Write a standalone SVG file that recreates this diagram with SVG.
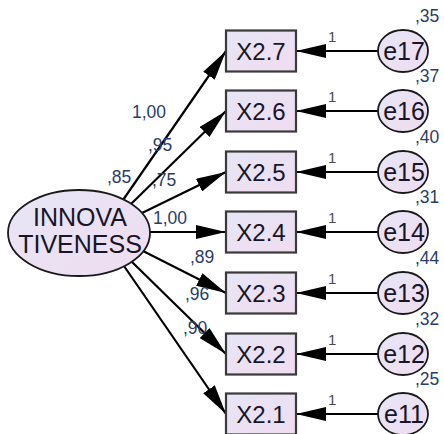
<svg xmlns="http://www.w3.org/2000/svg" width="444" height="434" viewBox="0 0 444 434">
  <defs>
    <linearGradient id="fillGrad" x1="0" y1="0" x2="1" y2="1">
      <stop offset="0" stop-color="#e6e6f6"/>
      <stop offset="1" stop-color="#f0dcf0"/>
    </linearGradient>
    <marker id="arrow" markerUnits="userSpaceOnUse" markerWidth="31" markerHeight="14" refX="30" refY="7" orient="auto">
      <path d="M0,0 L30,7 L0,14 Z" fill="#000"/>
    </marker>
  </defs>
  <style>
    .box { fill: url(#fillGrad); stroke: #3a3a3a; stroke-width: 2.2; }
    .oval { fill: url(#fillGrad); stroke: #1a1a1a; stroke-width: 1.8; }
    .path { stroke: #000; stroke-width: 2.2; fill: none; marker-end: url(#arrow); }
    .big { font-family: "Liberation Sans", Arial, sans-serif; font-size: 24px; fill: #161628; text-anchor: middle; }
    .name { font-family: "Liberation Sans", Arial, sans-serif; font-size: 25px; fill: #161628; text-anchor: middle; }
    .lbl { font-family: "Liberation Sans", Arial, sans-serif; font-size: 17.5px; fill: #2a3d68; }
    .one { font-family: "Liberation Sans", Arial, sans-serif; font-size: 15px; fill: #4a4a50; }
  </style>

  <rect width="444" height="434" fill="#fff"/>

  <!-- connectors -->
  <g id="connectors">
    <line class="path" x1="123" y1="200" x2="226" y2="51"/>
    <line class="path" x1="131" y1="204" x2="226" y2="111"/>
    <line class="path" x1="142" y1="213" x2="226" y2="172"/>
    <line class="path" x1="150" y1="232" x2="226" y2="232"/>
    <line class="path" x1="143" y1="251" x2="226" y2="293"/>
    <line class="path" x1="132" y1="262" x2="226" y2="354"/>
    <line class="path" x1="124" y1="266" x2="226" y2="414"/>

    <line class="path" x1="378" y1="51" x2="296" y2="51"/>
    <line class="path" x1="378" y1="111" x2="296" y2="111"/>
    <line class="path" x1="378" y1="172" x2="296" y2="172"/>
    <line class="path" x1="378" y1="232" x2="296" y2="232"/>
    <line class="path" x1="378" y1="293" x2="296" y2="293"/>
    <line class="path" x1="378" y1="354" x2="296" y2="354"/>
    <line class="path" x1="378" y1="414" x2="296" y2="414"/>

    <!-- loadings -->
    <text class="lbl" x="132" y="118">1,00</text>
    <text class="lbl" x="148" y="151">,95</text>
    <text class="lbl" x="152" y="186">,75</text>
    <text class="lbl" x="153" y="224">1,00</text>
    <text class="lbl" x="190" y="263">,89</text>
    <text class="lbl" x="185" y="300">,96</text>
    <text class="lbl" x="183" y="334">,90</text>

    <!-- fixed error weights -->
    <text class="one" x="328" y="42">1</text>
    <text class="one" x="328" y="102">1</text>
    <text class="one" x="328" y="163">1</text>
    <text class="one" x="328" y="223">1</text>
    <text class="one" x="328" y="284">1</text>
    <text class="one" x="328" y="345">1</text>
    <text class="one" x="328" y="405">1</text>
  </g>

  <!-- latent factor -->
  <g id="innovativeness">
    <ellipse class="oval" cx="79" cy="233" rx="71" ry="43"/>
    <text class="name" x="80" y="226">INNOVA</text>
    <text class="name" x="80" y="253">TIVENESS</text>
    <text class="lbl" x="107" y="183">,85</text>
  </g>

  <!-- observed indicators -->
  <g id="x27"><rect class="box" x="226" y="30.5" width="70" height="41"/><text class="big" x="261" y="60">X2.7</text></g>
  <g id="x26"><rect class="box" x="226" y="90.5" width="70" height="41"/><text class="big" x="261" y="120">X2.6</text></g>
  <g id="x25"><rect class="box" x="226" y="151.5" width="70" height="41"/><text class="big" x="261" y="181">X2.5</text></g>
  <g id="x24"><rect class="box" x="226" y="211.5" width="70" height="41"/><text class="big" x="261" y="241">X2.4</text></g>
  <g id="x23"><rect class="box" x="226" y="272.5" width="70" height="41"/><text class="big" x="261" y="302">X2.3</text></g>
  <g id="x22"><rect class="box" x="226" y="333.5" width="70" height="41"/><text class="big" x="261" y="363">X2.2</text></g>
  <g id="x21"><rect class="box" x="226" y="393.5" width="70" height="41"/><text class="big" x="261" y="423">X2.1</text></g>

  <!-- error terms -->
  <g id="e17"><ellipse class="oval" cx="403" cy="51" rx="25" ry="21"/><text class="name" x="404" y="60">e17</text><text class="lbl" x="415" y="22">,35</text></g>
  <g id="e16"><ellipse class="oval" cx="403" cy="111" rx="25" ry="21"/><text class="name" x="404" y="120">e16</text><text class="lbl" x="415" y="82">,37</text></g>
  <g id="e15"><ellipse class="oval" cx="403" cy="172" rx="25" ry="21"/><text class="name" x="404" y="181">e15</text><text class="lbl" x="415" y="143">,40</text></g>
  <g id="e14"><ellipse class="oval" cx="403" cy="232" rx="25" ry="21"/><text class="name" x="404" y="241">e14</text><text class="lbl" x="415" y="203">,31</text></g>
  <g id="e13"><ellipse class="oval" cx="403" cy="293" rx="25" ry="21"/><text class="name" x="404" y="302">e13</text><text class="lbl" x="415" y="264">,44</text></g>
  <g id="e12"><ellipse class="oval" cx="403" cy="354" rx="25" ry="21"/><text class="name" x="404" y="363">e12</text><text class="lbl" x="415" y="325">,32</text></g>
  <g id="e11"><ellipse class="oval" cx="403" cy="414" rx="25" ry="21"/><text class="name" x="404" y="423">e11</text><text class="lbl" x="415" y="385">,25</text></g>
</svg>
